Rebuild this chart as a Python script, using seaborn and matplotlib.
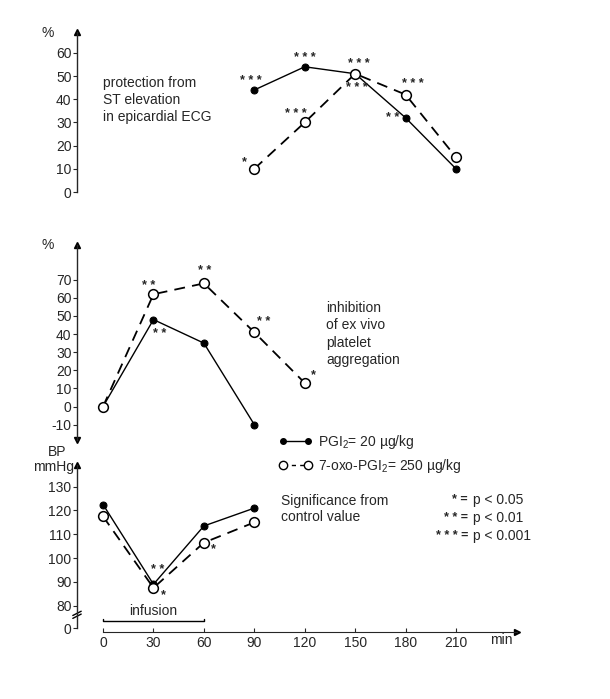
import matplotlib
matplotlib.use('Agg')
import matplotlib.pyplot as plt
from matplotlib.lines import Line2D
import seaborn as sns

# data
time_st = [90, 120, 150, 180, 210]
st_pgi2 = [44, 54, 51, 32, 10]
st_oxo = [10, 30, 51, 42, 15]

time_agg_pgi2 = [0, 30, 60, 90]
agg_pgi2 = [0, 48, 35, -10]
time_agg_oxo = [0, 30, 60, 90, 120]
agg_oxo = [0, 62, 68, 41, 13]

time_bp = [0, 30, 60, 90]
bp_pgi2 = [122.5, 89, 113.5, 121]
bp_oxo = [117.5, 87.5, 106.5, 115]

x_ticks = [0, 30, 60, 90, 120, 150, 180, 210]
st_ticks = [0, 10, 20, 30, 40, 50, 60]
agg_ticks = [-10, 0, 10, 20, 30, 40, 50, 60, 70]
bp_ticks = [80, 90, 100, 110, 120, 130]

# significance marks: (series index, label, offset px)
st_pgi2_sig = [(0, '* * *', (-3, 9)), (1, '* * *', (0, 9)), (2, '* * *', (4, 10)), (3, '* *', (-13, 0))]
st_oxo_sig = [(0, '*', (-10, 7)), (1, '* * *', (-9, 8)), (2, '* * *', (2, -14)), (3, '* * *', (7, 11))]
agg_pgi2_sig = [(1, '* *', (6, -14))]
agg_oxo_sig = [(1, '* *', (-5, 8)), (2, '* *', (1, 12)), (3, '* *', (9, 10)), (4, '*', (9, 8))]
bp_pgi2_sig = [(1, '* *', (4, 14))]
bp_oxo_sig = [(1, '*', (10, -7)), (2, '*', (9, -7))]

sns.set_style('ticks')
plt.rcParams['font.family'] = ['Liberation Sans', 'DejaVu Sans']
plt.rcParams['mathtext.fontset'] = 'custom'
plt.rcParams['mathtext.rm'] = 'Liberation Sans'
plt.rcParams['axes.unicode_minus'] = False
plt.rcParams['font.size'] = 10

W, H = 610, 699
fig = plt.figure(figsize=(W / 100, H / 100), dpi=100)
fig.patch.set_facecolor('white')


def fx(px):
    return px / W


def fy(py):
    return 1 - py / H


XMIN, XMAX = -15.5, 246.3
ax_left, ax_w = fx(77), (517 - 77) / W

ax_st = fig.add_axes([ax_left, fy(192), ax_w, 160 / H])
ax_agg = fig.add_axes([ax_left, fy(440), ax_w, 195 / H])
ax_bp = fig.add_axes([ax_left, fy(631.7), ax_w, 166.7 / H])

filled = dict(color='black', marker='o', markersize=5, linewidth=1,
              markeredgecolor='black', markerfacecolor='black')
hollow = dict(color='black', marker='o', markersize=7, linewidth=1.3,
              markeredgecolor='black', markerfacecolor='white',
              linestyle=(0, (6, 4)), markeredgewidth=1.1)

sns.lineplot(x=time_st, y=st_pgi2, ax=ax_st, **filled)
sns.lineplot(x=time_st, y=st_oxo, ax=ax_st, **hollow)
sns.lineplot(x=time_agg_pgi2, y=agg_pgi2, ax=ax_agg, **filled)
sns.lineplot(x=time_agg_oxo, y=agg_oxo, ax=ax_agg, **hollow)
sns.lineplot(x=time_bp, y=bp_pgi2, ax=ax_bp, **filled)
sns.lineplot(x=time_bp, y=bp_oxo, ax=ax_bp, **hollow)


def stars(ax, xs, ys, marks):
    for i, lab, (dx, dy) in marks:
        ax.annotate(lab, xy=(xs[i], ys[i]), xytext=(dx * 0.72, dy * 0.72),
                    textcoords='offset points', ha='center', va='center',
                    fontsize=9, fontweight='bold')


stars(ax_st, time_st, st_pgi2, st_pgi2_sig)
stars(ax_st, time_st, st_oxo, st_oxo_sig)
stars(ax_agg, time_agg_pgi2, agg_pgi2, agg_pgi2_sig)
stars(ax_agg, time_agg_oxo, agg_oxo, agg_oxo_sig)
stars(ax_bp, time_bp, bp_pgi2, bp_pgi2_sig)
stars(ax_bp, time_bp, bp_oxo, bp_oxo_sig)

for ax in (ax_st, ax_agg, ax_bp):
    ax.set_facecolor('none')
    ax.set_xlim(XMIN, XMAX)
    ax.set_xlabel('')
    ax.set_ylabel('')
    for s in ('top', 'right'):
        ax.spines[s].set_visible(False)
    ax.spines['left'].set_linewidth(1)
    ax.tick_params(axis='y', direction='out', length=3, width=0.8, pad=1, labelsize=10)
    ax.plot([0], [1], marker='^', color='black', ms=5, transform=ax.transAxes, clip_on=False)

ax_st.set_ylim(0, 69)
ax_st.set_yticks(st_ticks)
ax_st.spines['bottom'].set_visible(False)
ax_st.set_xticks([])
ax_st.spines['left'].set_bounds(0, 69)

ax_agg.set_ylim(-18.5, 89.2)
ax_agg.set_yticks(agg_ticks)
ax_agg.spines['bottom'].set_visible(False)
ax_agg.set_xticks([])
ax_agg.plot([0], [0], marker='v', color='black', ms=5, transform=ax_agg.transAxes, clip_on=False)

ax_bp.set_ylim(69.1, 139.1)
ax_bp.set_yticks(bp_ticks + [70.6])
ax_bp.set_yticklabels([str(t) for t in bp_ticks] + ['0'])
ax_bp.spines['left'].set_bounds(70.6, 139.1)
ax_bp.spines['bottom'].set_bounds(0, XMAX)
ax_bp.set_xticks(x_ticks)
ax_bp.set_xticklabels([str(t) for t in x_ticks])
ax_bp.tick_params(axis='x', direction='in', length=3, width=0.8, pad=3, labelsize=10)
ax_bp.plot([1], [0], marker='>', color='black', ms=5, transform=ax_bp.transAxes, clip_on=False)

# axis break on BP axis
for yb in (75.6, 76.8):
    ax_bp.plot([XMIN - 2.5, XMIN + 2.5], [yb - 0.9, yb + 0.9], color='black', lw=1, clip_on=False)

# infusion bracket
ax_bp.plot([0, 0, 60, 60], [74.4, 73.4, 73.4, 74.4], color='black', lw=1, clip_on=False)
ax_bp.text(30, 77.6, 'infusion', ha='center', va='center', fontsize=10)

fig.text(fx(490), fy(640), 'min', ha='left', va='center', fontsize=10)

# axis titles
fig.text(fx(42), fy(33), '%', ha='left', va='center', fontsize=10)
fig.text(fx(42), fy(245), '%', ha='left', va='center', fontsize=10)
fig.text(fx(48), fy(452), 'BP', ha='left', va='center', fontsize=10)
fig.text(fx(74), fy(467), 'mmHg', ha='right', va='center', fontsize=10)

fig.text(fx(103), fy(100), 'protection from\nST elevation\nin epicardial ECG',
         ha='left', va='center', fontsize=10, linespacing=1.25)
fig.text(fx(326), fy(334), 'inhibition\nof ex vivo\nplatelet\naggregation',
         ha='left', va='center', fontsize=10, linespacing=1.32)

# legend
handles = [Line2D([], [], color='black', marker='o', ms=4, lw=1),
           Line2D([], [], color='black', marker='o', ms=6, mfc='white', lw=1,
                  linestyle=(0, (3, 3)))]
labels = ['PGI$_2$= 20 \u00b5g/kg', '7-oxo-PGI$_2$= 250 \u00b5g/kg']
fig.legend(handles, labels, loc='upper left', bbox_to_anchor=(fx(279), fy(433)),
           frameon=False, numpoints=2, handlelength=2.4, handletextpad=0.4,
           labelspacing=0.45, borderaxespad=0, borderpad=0, fontsize=10)

fig.text(fx(281), fy(509), 'Significance from\ncontrol value', ha='left', va='center',
         fontsize=10, linespacing=1.2)
sig_keys = [('*', 'p < 0.05'), ('* *', 'p < 0.01'), ('* * *', 'p < 0.001')]
for k, (st, pv) in enumerate(sig_keys):
    yk = 500 + k * 18
    fig.text(fx(468), fy(yk), st + ' =', ha='right', va='center', fontsize=9, fontweight='bold')
    fig.text(fx(473), fy(yk), pv, ha='left', va='center', fontsize=10)

fig.savefig('out.png', dpi=100, facecolor='white')
